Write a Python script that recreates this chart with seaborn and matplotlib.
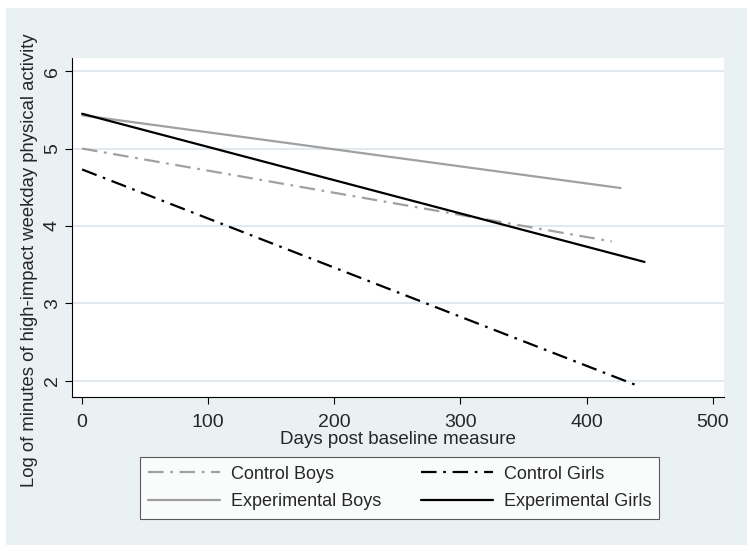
import matplotlib
matplotlib.use("Agg")
import matplotlib.pyplot as plt
import seaborn as sns
import pandas as pd
from matplotlib.patches import Rectangle
from matplotlib.lines import Line2D

# fitted lines: start and end of each group
groups = ["Control Boys", "Control Girls", "Experimental Boys", "Experimental Girls"]
start_days = [0, 0, 0, 0]
end_days = [420, 443, 427, 446]
start_values = [5.00, 4.73, 5.43, 5.45]
end_values = [3.80, 1.92, 4.49, 3.535]

x_ticks = [0, 100, 200, 300, 400, 500]
y_ticks = [2, 3, 4, 5, 6]

colors = {"Control Boys": "#a0a0a0", "Control Girls": "#000000",
          "Experimental Boys": "#a0a0a0", "Experimental Girls": "#000000"}
dash_dot = (7, 3, 1.2, 3)
dashes = {"Control Boys": dash_dot, "Control Girls": dash_dot,
          "Experimental Boys": "", "Experimental Girls": ""}

rows = []
for g, d0, d1, v0, v1 in zip(groups, start_days, end_days, start_values, end_values):
    rows.append({"group": g, "days": d0, "value": v0})
    rows.append({"group": g, "days": d1, "value": v1})
df = pd.DataFrame(rows)

sns.set_style("white")
plt.rcParams["font.family"] = ["Liberation Sans", "DejaVu Sans"]

fig = plt.figure(figsize=(7.5, 5.51), dpi=100)
fig.patch.set_facecolor("white")
# light bluish-gray graph region like Stata's s2color scheme
fig.patches.append(Rectangle((6 / 750, 1 - 545 / 551), 741 / 750, 537 / 551,
                             transform=fig.transFigure, facecolor="#eaf1f3",
                             edgecolor="none", zorder=-10))

ax = fig.add_axes([72 / 750, 1 - 397 / 551, 652 / 750, 339 / 551])
ax.set_facecolor("white")

for y in y_ticks:
    ax.axhline(y, color="#e0eaee", linewidth=1.4, zorder=0)

sns.lineplot(data=df, x="days", y="value", hue="group", style="group",
             palette=colors, dashes=dashes, linewidth=1.6, legend=False,
             estimator=None, sort=False, ax=ax)

ax.set_xlim(-8, 509)
ax.set_ylim(1.79, 6.17)
ax.set_xticks(x_ticks)
ax.set_yticks(y_ticks)
ax.tick_params(axis="both", direction="out", length=5, width=0.8,
               color="black", labelsize=14, bottom=True, left=True, pad=3)
ax.tick_params(axis="x", pad=7)
for lab in ax.get_yticklabels():
    lab.set_rotation(90)
    lab.set_va("center")

for side in ["top", "right"]:
    ax.spines[side].set_visible(False)
for side in ["left", "bottom"]:
    ax.spines[side].set_color("black")
    ax.spines[side].set_linewidth(0.8)

ax.set_xlabel("Days post baseline measure", fontsize=13.5, labelpad=0)
ax.set_ylabel("Log of minutes of high-impact weekday physical activity",
              fontsize=13.3)
ax.yaxis.set_label_coords(-0.052, 0.404)

# legend fills row by row like the reference
order = ["Control Boys", "Experimental Boys", "Control Girls", "Experimental Girls"]
handles = [Line2D([], [], color=colors[g], linewidth=1.6,
                  dashes=dashes[g] if dashes[g] else (None, None)) for g in order]
leg = fig.legend(handles, order, loc="center", ncol=2,
                 bbox_to_anchor=(399.5 / 750, 1 - 488 / 551), fontsize=13,
                 frameon=True, fancybox=False, edgecolor="#333333",
                 handlelength=4.0, columnspacing=2.2, handletextpad=0.6,
                 labelspacing=0.6, borderpad=0.45, borderaxespad=0)
leg.get_frame().set_linewidth(0.8)

fig.savefig("out.png", dpi=100, facecolor=fig.get_facecolor())
